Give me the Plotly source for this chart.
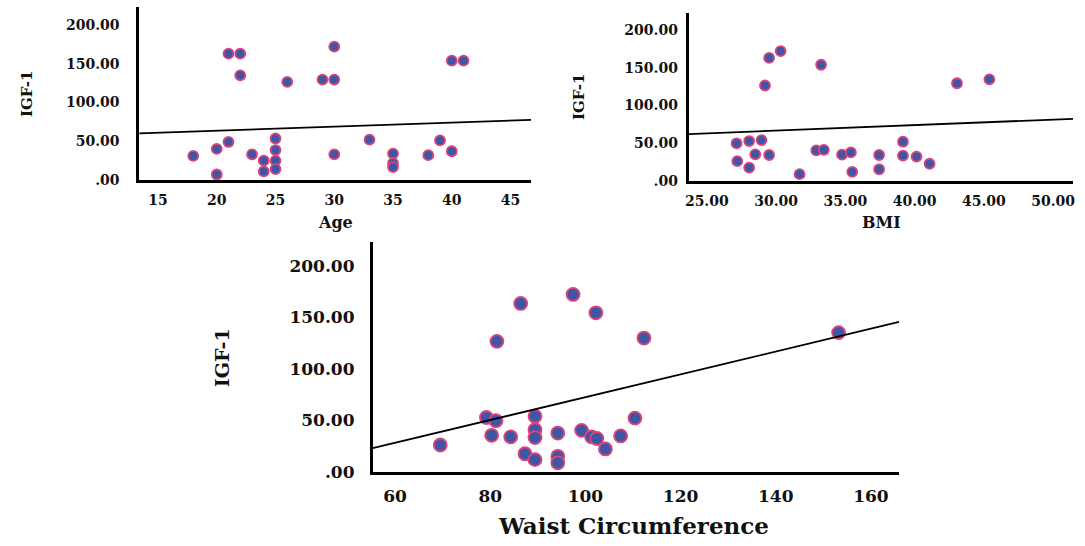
import plotly.graph_objects as go

# ---- data ----
age = [18, 20, 20, 21, 21, 22, 22, 23, 24, 24, 25, 25, 25, 25, 26, 29, 30, 30, 30,
       33, 35, 35, 35, 38, 39, 40, 40, 41]
igf_age = [31, 40, 7, 49, 163, 163, 135, 33, 25, 11, 53.5, 38.6, 25, 14, 126.5, 129.5,
           129.5, 172, 33, 52, 34, 21.6, 16.6, 32, 51, 154, 37, 154]

bmi = [27.15, 27.2, 28.06, 28.06, 28.5, 28.95, 29.5, 29.2, 29.5, 30.33, 31.7, 32.9,
       33.45, 33.25, 34.76, 35.4, 35.5, 37.44, 37.44, 39.16, 39.16, 40.14, 41.08,
       43.06, 45.4]
igf_bmi = [49.7, 25.9, 52.7, 17.3, 35, 54, 34.1, 126.6, 163.3, 172.4, 8.6, 40.2, 41,
           154.2, 34.6, 37.6, 11.7, 34.1, 15.1, 51.8, 33.3, 32, 22.5, 129.6, 134.8]

waist = [69.5, 79.2, 81.2, 80.3, 84.3, 81.4, 86.4, 87.3, 89.4, 89.4, 89.4, 89.4, 94.2,
         94.2, 94.2, 97.4, 99.2, 101.3, 102.4, 102.2, 104.2, 107.4, 110.4, 112.3, 153.2]
igf_waist = [26.1, 52.8, 49.7, 35.5, 34, 126.7, 163.5, 17.6, 11.9, 54.1, 40.9, 33.3,
             37.7, 15.1, 8.8, 172.3, 40.3, 34, 32.4, 154.4, 22.3, 34.9, 52.2, 129.9, 135.2]

# fit lines (intercept, slope)
fit_age = (53.2, 0.522)
fit_bmi = (44.7, 0.73)
fit_waist = (-38.3, 1.108)

y_vals = [0, 50, 100, 150, 200]
y_text = [".00", "50.00", "100.00", "150.00", "200.00"]
age_ticks = [15, 20, 25, 30, 35, 40, 45]
bmi_ticks = [25, 30, 35, 40, 45, 50]
bmi_text = ["25.00", "30.00", "35.00", "40.00", "45.00", "50.00"]
waist_ticks = [60, 80, 100, 120, 140, 160]

age_range = [13.4, 46.75]
bmi_range = [23.68, 51.44]
waist_range = [55.3, 165.9]
y_range = [0, 223]

FILL = "#3F56A5"
EDGE = "#E0437A"
FONT = "DejaVu Serif"

fig = go.Figure()

def add_panel(x, y, fit, xr, xa, ya, msize):
    fig.add_trace(go.Scatter(
        x=x, y=y, mode="markers", xaxis=xa, yaxis=ya, showlegend=False,
        marker=dict(size=msize, color=FILL, line=dict(color=EDGE, width=1.8))))
    fx = [xr[0], xr[1]]
    fy = [fit[0] + fit[1] * v for v in fx]
    fig.add_trace(go.Scatter(
        x=fx, y=fy, mode="lines", xaxis=xa, yaxis=ya, showlegend=False,
        line=dict(color="black", width=1.8)))

add_panel(age, igf_age, fit_age, age_range, "x", "y", 10)
add_panel(bmi, igf_bmi, fit_bmi, bmi_range, "x2", "y2", 10)
add_panel(waist, igf_waist, fit_waist, waist_range, "x3", "y3", 13)

def ax(domain, rng, tv, tt, fsize, tlen, anchor):
    return dict(domain=domain, range=rng, tickvals=tv, ticktext=tt,
                showline=True, linecolor="black", linewidth=2.6, mirror=False,
                showgrid=False, zeroline=False, ticks="outside", ticklen=tlen,
                tickcolor="rgba(0,0,0,0)", anchor=anchor, fixedrange=True,
                tickfont=dict(family=FONT, size=fsize, color="#111", weight="bold"))

fig.update_layout(
    width=1085, height=546, margin=dict(l=0, r=0, t=0, b=0),
    paper_bgcolor="white", plot_bgcolor="white",
    xaxis=ax([0.1253, 0.4885], age_range, age_ticks, [str(v) for v in age_ticks], 14, 5, "y"),
    yaxis=ax([0.6643, 0.9866], y_range, y_vals, y_text, 14, 14, "x"),
    xaxis2=ax([0.6344, 0.9908], bmi_range, bmi_ticks, bmi_text, 14, 6, "y2"),
    yaxis2=ax([0.6630, 0.9756], y_range, y_vals, y_text, 14, 5, "x2"),
    xaxis3=ax([0.3417, 0.8295], waist_range, waist_ticks, [str(v) for v in waist_ticks], 17, 7, "y3"),
    yaxis3=ax([0.1196, 0.5482], y_range, y_vals, y_text, 17, 12, "x3"),
)

def label(text, x, y, size, angle=0):
    fig.add_annotation(text=text, x=x, y=y, xref="paper", yref="paper",
                       showarrow=False, textangle=angle, xanchor="center", yanchor="middle",
                       font=dict(family=FONT, size=size, color="#111", weight="bold"))

label("IGF-1", 0.0212, 0.8242, 15, -90)
label("Age", 0.3069, 0.585, 16)
label("IGF-1", 0.5327, 0.8187, 15, -90)
label("BMI", 0.8129, 0.585, 16)
label("IGF-1", 0.2028, 0.3333, 19, -90)
label("Waist Circumference", 0.5834, 0.020, 23)

fig.write_html("out.html")
